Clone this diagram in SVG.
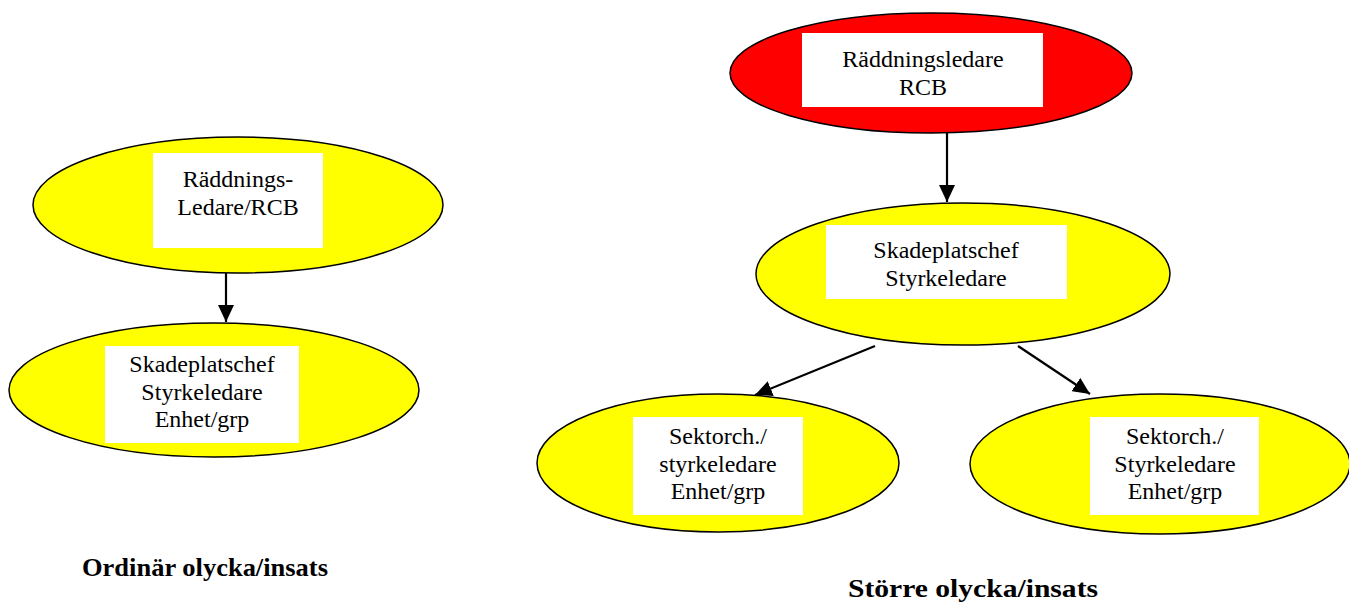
<svg xmlns="http://www.w3.org/2000/svg" width="1349" height="603" viewBox="0 0 1349 603">
<style>
  .yel { fill: #FFFF00; stroke: #000; stroke-width: 1.5; }
  .red { fill: #FF0000; stroke: #000; stroke-width: 1.5; }
  .box { fill: #FFFFFF; stroke: none; }
  text { font-family: 'Liberation Serif', Tinos, 'Times New Roman', Times, serif; fill: #000; }
  .t { font-size: 24px; text-anchor: middle; }
  .lbl { font-size: 26px; font-weight: bold; }
  .edge { stroke: #000; stroke-width: 2.2; fill: none; marker-end: url(#arr); }
</style>
<defs>
  <marker id="arr" markerUnits="userSpaceOnUse" markerWidth="18" markerHeight="16" refX="17" refY="8" orient="auto">
    <path d="M0,0 L17,8 L0,16 z" fill="#000"/>
  </marker>
</defs>
<rect width="1349" height="603" fill="#FFFFFF"/>

<g id="connectors">
  <line class="edge" x1="226" y1="273" x2="226" y2="322"/>
  <line class="edge" x1="947" y1="133" x2="947" y2="202"/>
  <line class="edge" x1="875" y1="346" x2="755" y2="395"/>
  <line class="edge" x1="1018" y1="346" x2="1090" y2="394"/>
</g>

<g id="left-top">
  <ellipse class="yel" cx="238" cy="205" rx="205" ry="68"/>
  <rect class="box" x="153" y="153" width="170" height="95"/>
  <text class="t" x="238" y="187">Räddnings-</text>
  <text class="t" x="238" y="215">Ledare/RCB</text>
</g>

<g id="left-bottom">
  <ellipse class="yel" cx="214" cy="390" rx="205" ry="67"/>
  <rect class="box" x="105" y="346" width="194" height="97"/>
  <text class="t" x="202" y="372">Skadeplatschef</text>
  <text class="t" x="202" y="399.5">Styrkeledare</text>
  <text class="t" x="202" y="427">Enhet/grp</text>
</g>

<g id="right-top">
  <ellipse class="red" cx="931" cy="73" rx="201" ry="60"/>
  <rect class="box" x="802" y="33" width="241" height="74"/>
  <text class="t" x="923" y="67">Räddningsledare</text>
  <text class="t" x="923" y="95">RCB</text>
</g>

<g id="right-middle">
  <ellipse class="yel" cx="963" cy="274" rx="207" ry="71"/>
  <rect class="box" x="826" y="225" width="241" height="74"/>
  <text class="t" x="946" y="258">Skadeplatschef</text>
  <text class="t" x="946" y="286">Styrkeledare</text>
</g>

<g id="right-bottom-left">
  <ellipse class="yel" cx="718" cy="463" rx="181" ry="69"/>
  <rect class="box" x="633" y="417" width="170" height="98"/>
  <text class="t" x="718" y="444">Sektorch./</text>
  <text class="t" x="718" y="471.5">styrkeledare</text>
  <text class="t" x="718" y="499">Enhet/grp</text>
</g>

<g id="right-bottom-right">
  <ellipse class="yel" cx="1160" cy="464" rx="190" ry="70"/>
  <rect class="box" x="1090" y="417" width="169" height="98"/>
  <text class="t" x="1175" y="444">Sektorch./</text>
  <text class="t" x="1175" y="471.5">Styrkeledare</text>
  <text class="t" x="1175" y="499">Enhet/grp</text>
</g>

<g id="labels">
  <text class="lbl" x="82" y="576" textLength="246" lengthAdjust="spacingAndGlyphs">Ordinär olycka/insats</text>
  <text class="lbl" x="848" y="597" textLength="250" lengthAdjust="spacingAndGlyphs">Större olycka/insats</text>
</g>
</svg>
